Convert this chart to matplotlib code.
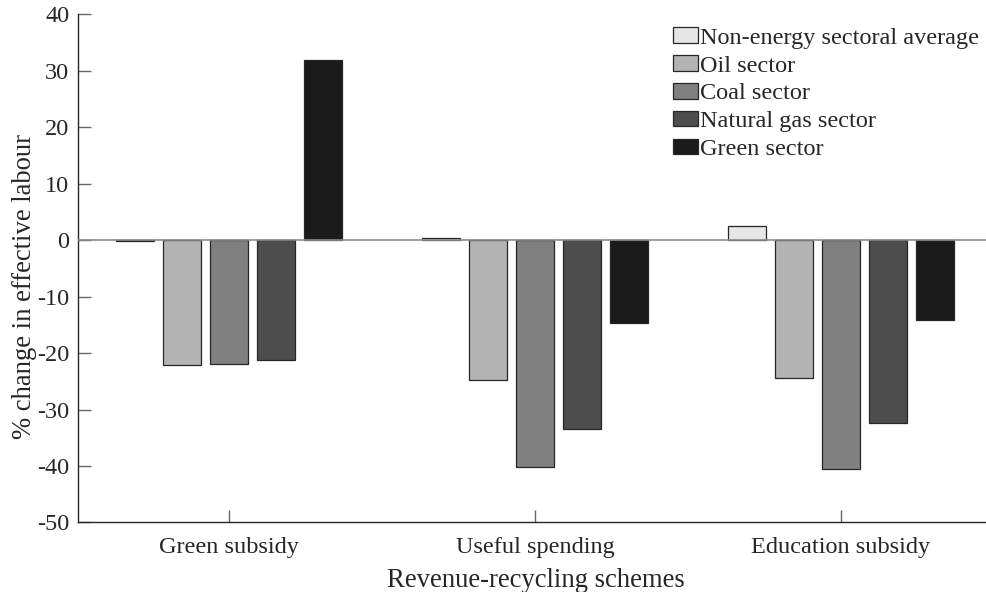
import numpy as np
import matplotlib.pyplot as plt

plt.rcParams['font.family'] = ['Liberation Serif', 'DejaVu Serif']
plt.rcParams['axes.unicode_minus'] = False

schemes = ['Green subsidy', 'Useful spending', 'Education subsidy']
sectors = ['Non-energy sectoral average', 'Oil sector', 'Coal sector',
           'Natural gas sector', 'Green sector']

# % change in effective labour, one list per sector (across the three schemes)
non_energy = [-0.1, 0.4, 2.5]
oil = [-22.2, -24.7, -24.5]
coal = [-22.0, -40.2, -40.6]
natural_gas = [-21.3, -33.4, -32.4]
green = [31.8, -14.6, -14.2]

series = [non_energy, oil, coal, natural_gas, green]
colors = ['#e6e6e6', '#b3b3b3', '#808080', '#4d4d4d', '#1a1a1a']
fs = 17.5
label_fs = 19.2

fig = plt.figure(figsize=(9.87, 5.92), dpi=100)
ax = fig.add_axes([0.0793, 0.1174, 0.9278, 0.8589])

x = np.arange(1, len(schemes) + 1)
n = len(series)
group_w = min(0.8, n / (n + 1.5))
slot = group_w / n
bar_w = 0.8 * slot

for i, (vals, c, name) in enumerate(zip(series, colors, sectors)):
    offset = (i - (n - 1) / 2) * slot
    ax.bar(x + offset, vals, width=bar_w, color=c, edgecolor='#262626',
           linewidth=0.9, label=name, zorder=2)

# baseline at zero
ax.axhline(0, color='#8c8c8c', linewidth=1.2, zorder=3)

ax.set_xlim(0.5075, 3.5)
ax.set_ylim(-50, 40)
ax.set_yticks(np.arange(-50, 41, 10))
ax.set_xticks(x)
ax.set_xticklabels(schemes)

for side in ['top', 'right']:
    ax.spines[side].set_visible(False)
for side in ['left', 'bottom']:
    ax.spines[side].set_color('#262626')
    ax.spines[side].set_linewidth(1.0)

ax.tick_params(direction='in', length=9, width=1, color='#666666',
               labelsize=fs, labelcolor='#262626')
ax.tick_params(axis='y', pad=6.5)
ax.tick_params(axis='x', pad=10.5)

ax.set_xlabel('Revenue-recycling schemes', fontsize=label_fs, color='#262626', labelpad=7)
ax.set_ylabel('% change in effective labour', fontsize=label_fs, color='#262626')
ax.yaxis.set_label_coords(-0.045, 0.465)

ax.legend(loc='upper left', bbox_to_anchor=(673 / 987, 1 - 27.5 / 592),
          bbox_transform=fig.transFigure, frameon=False, fontsize=fs,
          borderpad=0, borderaxespad=0, handlelength=1.02, handleheight=0.6,
          handletextpad=0.1, labelspacing=0.27, labelcolor='#262626')

fig.savefig('out.png', dpi=100)
